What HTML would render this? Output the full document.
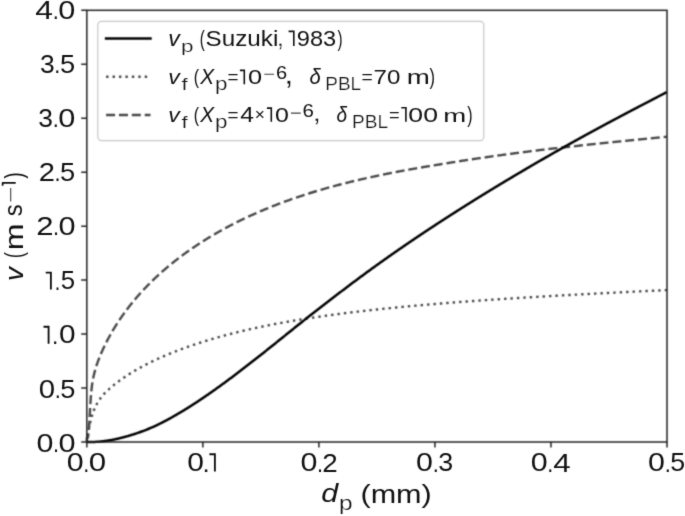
<!DOCTYPE html>
<html><head><meta charset="utf-8"><style>
html,body{margin:0;padding:0;background:#fff;width:685px;height:516px;overflow:hidden}
svg{display:block;font-family:"Liberation Sans",sans-serif}
</style></head><body>
<svg width="685" height="516" viewBox="0 0 685 516">
<defs><filter id="b" x="0" y="0" width="685" height="516" filterUnits="userSpaceOnUse" color-interpolation-filters="sRGB"><feConvolveMatrix order="3" kernelMatrix="0.09 0.3 0.09 0.3 1 0.3 0.09 0.3 0.09" edgeMode="duplicate"/></filter><filter id="bt" x="0" y="0" width="685" height="516" filterUnits="userSpaceOnUse" color-interpolation-filters="sRGB"><feConvolveMatrix order="3" kernelMatrix="0.0225 0.15 0.0225 0.15 1 0.15 0.0225 0.15 0.0225" edgeMode="duplicate"/></filter></defs>
<rect width="685" height="516" fill="#fff"/>
<g filter="url(#b)">
<g fill="none" stroke-linejoin="round">
<path d="M86.83,442.01 L86.83,441.99 L86.83,441.96 L86.84,441.92 L86.84,441.87 L86.85,441.80 L86.86,441.73 L86.87,441.64 L86.88,441.54 L86.89,441.43 L86.90,441.31 L86.92,441.18 L86.93,441.03 L86.95,440.88 L86.97,440.72 L86.99,440.55 L87.01,440.37 L87.04,440.18 L87.06,439.98 L87.09,439.77 L87.12,439.55 L87.15,439.32 L87.18,439.09 L87.21,438.85 L87.24,438.60 L87.28,438.34 L87.32,438.07 L87.35,437.80 L87.39,437.52 L87.43,437.23 L87.48,436.93 L87.52,436.63 L87.56,436.33 L87.61,436.01 L87.66,435.69 L87.71,435.37 L87.76,435.03 L87.81,434.70 L87.87,434.36 L87.92,434.01 L87.98,433.66 L88.04,433.30 L88.10,432.94 L88.16,432.57 L88.22,432.20 L88.28,431.83 L88.35,431.45 L88.42,431.07 L88.48,430.69 L88.55,430.30 L88.62,429.91 L88.70,429.52 L88.77,429.12 L88.85,428.73 L88.92,428.33 L89.00,427.92 L89.08,427.52 L89.16,427.12 L89.24,426.71 L89.33,426.30 L89.41,425.89 L89.50,425.49 L89.59,425.08 L89.68,424.66 L89.77,424.25 L89.86,423.84 L89.96,423.43 L90.05,423.02 L90.15,422.61 L90.25,422.20 L90.35,421.79 L90.45,421.38 L90.55,420.97 L90.65,420.56 L90.76,420.15 L90.87,419.75 L90.98,419.34 L91.09,418.93 L91.20,418.53 L91.31,418.13 L91.42,417.72 L91.54,417.32 L91.66,416.92 L91.77,416.53 L91.89,416.13 L92.02,415.73 L92.14,415.34 L92.26,414.95 L92.39,414.56 L92.52,414.17 L92.64,413.79 L92.77,413.40 L92.90,413.02 L93.04,412.64 L93.17,412.27 L93.31,411.89 L93.44,411.52 L93.58,411.15 L93.72,410.78 L93.86,410.42 L94.01,410.06 L94.15,409.70 L94.30,409.34 L94.44,408.99 L94.59,408.64 L94.74,408.29 L94.89,407.95 L95.05,407.61 L95.20,407.27 L95.36,406.93 L95.51,406.59 L95.67,406.26 L95.83,405.93 L95.99,405.61 L96.16,405.28 L96.32,404.96 L96.49,404.64 L96.66,404.33 L96.82,404.01 L96.99,403.70 L97.17,403.39 L97.34,403.08 L97.51,402.78 L97.69,402.48 L97.87,402.18 L98.04,401.88 L98.22,401.58 L98.41,401.29 L98.59,401.00 L98.77,400.71 L98.96,400.43 L99.15,400.14 L99.34,399.86 L99.53,399.58 L99.72,399.30 L99.91,399.03 L100.11,398.76 L100.30,398.49 L100.50,398.22 L100.70,397.95 L100.90,397.69 L101.10,397.42 L101.30,397.16 L101.51,396.90 L101.71,396.65 L101.92,396.39 L102.13,396.14 L102.34,395.89 L102.55,395.64 L102.76,395.39 L102.98,395.14 L103.19,394.90 L103.41,394.65 L103.63,394.41 L103.85,394.17 L104.07,393.93 L104.30,393.69 L104.52,393.45 L104.75,393.22 L104.97,392.98 L105.20,392.75 L105.43,392.51 L105.67,392.28 L105.90,392.05 L106.13,391.82 L106.37,391.59 L106.61,391.36 L106.85,391.13 L107.09,390.90 L107.33,390.67 L107.57,390.44 L107.82,390.21 L108.06,389.99 L108.31,389.76 L108.56,389.53 L108.81,389.31 L109.06,389.08 L109.32,388.85 L109.57,388.63 L109.83,388.40 L110.08,388.18 L110.34,387.95 L110.60,387.72 L110.87,387.50 L111.13,387.27 L111.39,387.05 L111.66,386.82 L111.93,386.59 L112.20,386.37 L112.47,386.14 L112.74,385.92 L113.01,385.69 L113.29,385.47 L113.56,385.24 L113.84,385.02 L114.12,384.79 L114.40,384.57 L114.68,384.34 L114.97,384.12 L115.25,383.89 L115.54,383.67 L115.83,383.44 L116.12,383.22 L116.41,382.99 L116.70,382.77 L116.99,382.55 L117.29,382.32 L117.58,382.10 L117.88,381.87 L118.18,381.65 L118.48,381.43 L118.78,381.20 L119.09,380.98 L119.39,380.76 L119.70,380.53 L120.01,380.31 L120.32,380.09 L120.63,379.86 L120.94,379.64 L121.25,379.42 L121.57,379.20 L121.88,378.97 L122.20,378.75 L122.52,378.53 L122.84,378.31 L123.17,378.08 L123.49,377.86 L123.81,377.64 L124.14,377.42 L124.47,377.20 L124.80,376.97 L125.13,376.75 L125.46,376.53 L125.79,376.31 L126.13,376.09 L126.47,375.87 L126.80,375.65 L127.14,375.43 L127.49,375.21 L127.83,374.99 L128.17,374.77 L128.52,374.55 L128.86,374.33 L129.21,374.11 L129.56,373.89 L129.91,373.67 L130.26,373.45 L130.62,373.23 L130.97,373.01 L131.33,372.79 L131.69,372.57 L132.05,372.35 L132.41,372.14 L132.77,371.92 L133.14,371.70 L133.50,371.48 L133.87,371.26 L134.24,371.05 L134.60,370.83 L134.98,370.61 L135.35,370.39 L135.72,370.18 L136.10,369.96 L136.47,369.74 L136.85,369.53 L137.23,369.31 L137.61,369.09 L138.00,368.88 L138.38,368.66 L138.77,368.45 L139.15,368.23 L139.54,368.02 L139.93,367.80 L140.32,367.59 L140.71,367.37 L141.11,367.16 L141.50,366.94 L141.90,366.73 L142.30,366.51 L142.70,366.30 L143.10,366.09 L143.50,365.87 L143.91,365.66 L144.31,365.45 L144.72,365.23 L145.13,365.02 L145.54,364.81 L145.95,364.60 L146.36,364.39 L146.78,364.17 L147.19,363.96 L147.61,363.75 L148.03,363.54 L148.45,363.33 L148.87,363.12 L149.29,362.91 L149.71,362.70 L150.14,362.49 L150.57,362.28 L151.00,362.07 L151.43,361.86 L151.86,361.65 L152.29,361.44 L152.72,361.23 L153.16,361.02 L153.60,360.81 L154.04,360.60 L154.48,360.40 L154.92,360.19 L155.36,359.98 L155.80,359.77 L156.25,359.57 L156.70,359.36 L157.15,359.15 L157.60,358.95 L158.05,358.74 L158.50,358.53 L158.95,358.33 L159.41,358.12 L159.87,357.92 L160.33,357.71 L160.79,357.51 L161.25,357.30 L161.71,357.10 L162.17,356.90 L162.64,356.69 L163.11,356.49 L163.58,356.29 L164.05,356.08 L164.52,355.88 L164.99,355.68 L165.47,355.48 L165.94,355.27 L166.42,355.07 L166.90,354.87 L167.38,354.67 L167.86,354.47 L168.34,354.27 L168.83,354.07 L169.31,353.87 L169.80,353.67 L170.29,353.47 L170.78,353.27 L171.27,353.07 L171.76,352.87 L172.26,352.67 L172.75,352.47 L173.25,352.28 L173.75,352.08 L174.25,351.88 L174.75,351.68 L175.26,351.49 L175.76,351.29 L176.27,351.09 L176.77,350.90 L177.28,350.70 L177.79,350.51 L178.30,350.31 L178.82,350.12 L179.33,349.92 L179.85,349.73 L180.37,349.53 L180.88,349.34 L181.40,349.15 L181.93,348.95 L182.45,348.76 L182.97,348.57 L183.50,348.37 L184.03,348.18 L184.56,347.99 L185.09,347.80 L185.62,347.61 L186.15,347.42 L186.69,347.23 L187.22,347.04 L187.76,346.85 L188.30,346.66 L188.84,346.47 L189.38,346.28 L189.93,346.09 L190.47,345.90 L191.02,345.71 L191.56,345.52 L192.11,345.34 L192.66,345.15 L193.22,344.96 L193.77,344.77 L194.32,344.59 L194.88,344.40 L195.44,344.22 L196.00,344.03 L196.56,343.85 L197.12,343.66 L197.68,343.48 L198.25,343.29 L198.81,343.11 L199.38,342.92 L199.95,342.74 L200.52,342.56 L201.09,342.38 L201.67,342.19 L202.24,342.01 L202.82,341.83 L203.40,341.65 L203.97,341.47 L204.56,341.29 L205.14,341.11 L205.72,340.93 L206.31,340.75 L206.89,340.57 L207.48,340.39 L208.07,340.21 L208.66,340.03 L209.25,339.85 L209.85,339.67 L210.44,339.50 L211.04,339.32 L211.64,339.14 L212.23,338.97 L212.84,338.79 L213.44,338.62 L214.04,338.44 L214.65,338.27 L215.25,338.09 L215.86,337.92 L216.47,337.74 L217.08,337.57 L217.69,337.40 L218.31,337.22 L218.92,337.05 L219.54,336.88 L220.16,336.71 L220.78,336.53 L221.40,336.36 L222.02,336.19 L222.64,336.02 L223.27,335.85 L223.89,335.68 L224.52,335.51 L225.15,335.34 L225.78,335.18 L226.41,335.01 L227.05,334.84 L227.68,334.67 L228.32,334.50 L228.96,334.34 L229.60,334.17 L230.24,334.01 L230.88,333.84 L231.53,333.67 L232.17,333.51 L232.82,333.35 L233.47,333.18 L234.11,333.02 L234.77,332.85 L235.42,332.69 L236.07,332.53 L236.73,332.37 L237.38,332.20 L238.04,332.04 L238.70,331.88 L239.36,331.72 L240.03,331.56 L240.69,331.40 L241.35,331.24 L242.02,331.08 L242.69,330.92 L243.36,330.76 L244.03,330.61 L244.70,330.45 L245.38,330.29 L246.05,330.13 L246.73,329.98 L247.41,329.82 L248.09,329.67 L248.77,329.51 L249.45,329.36 L250.13,329.20 L250.82,329.05 L251.51,328.89 L252.19,328.74 L252.88,328.59 L253.58,328.43 L254.27,328.28 L254.96,328.13 L255.66,327.98 L256.35,327.83 L257.05,327.68 L257.75,327.53 L258.45,327.38 L259.16,327.23 L259.86,327.08 L260.57,326.93 L261.27,326.78 L261.98,326.64 L262.69,326.49 L263.40,326.34 L264.12,326.20 L264.83,326.05 L265.55,325.90 L266.26,325.76 L266.98,325.61 L267.70,325.47 L268.42,325.33 L269.14,325.18 L269.87,325.04 L270.59,324.90 L271.32,324.76 L272.05,324.61 L272.78,324.47 L273.51,324.33 L274.24,324.19 L274.98,324.05 L275.71,323.91 L276.45,323.77 L277.19,323.63 L277.93,323.49 L278.67,323.36 L279.41,323.22 L280.16,323.08 L280.90,322.94 L281.65,322.81 L282.40,322.67 L283.15,322.53 L283.90,322.40 L284.65,322.26 L285.41,322.13 L286.16,322.00 L286.92,321.86 L287.68,321.73 L288.44,321.59 L289.20,321.46 L289.96,321.33 L290.73,321.20 L291.49,321.07 L292.26,320.93 L293.03,320.80 L293.80,320.67 L294.57,320.54 L295.35,320.41 L296.12,320.28 L296.90,320.16 L297.67,320.03 L298.45,319.90 L299.23,319.77 L300.01,319.64 L300.80,319.52 L301.58,319.39 L302.37,319.26 L303.15,319.14 L303.94,319.01 L304.73,318.89 L305.53,318.76 L306.32,318.64 L307.11,318.51 L307.91,318.39 L308.71,318.26 L309.50,318.14 L310.31,318.02 L311.11,317.90 L311.91,317.77 L312.71,317.65 L313.52,317.53 L314.33,317.41 L315.14,317.29 L315.95,317.17 L316.76,317.05 L317.57,316.93 L318.39,316.81 L319.20,316.69 L320.02,316.57 L320.84,316.45 L321.66,316.34 L322.48,316.22 L323.30,316.10 L324.13,315.98 L324.96,315.87 L325.78,315.75 L326.61,315.64 L327.44,315.52 L328.27,315.40 L329.11,315.29 L329.94,315.18 L330.78,315.06 L331.62,314.95 L332.46,314.83 L333.30,314.72 L334.14,314.61 L334.98,314.49 L335.83,314.38 L336.67,314.27 L337.52,314.16 L338.37,314.05 L339.22,313.94 L340.07,313.83 L340.92,313.72 L341.78,313.60 L342.64,313.50 L343.49,313.39 L344.35,313.28 L345.21,313.17 L346.07,313.06 L346.94,312.95 L347.80,312.84 L348.67,312.74 L349.54,312.63 L350.41,312.52 L351.28,312.41 L352.15,312.31 L353.02,312.20 L353.90,312.10 L354.77,311.99 L355.65,311.89 L356.53,311.78 L357.41,311.68 L358.29,311.57 L359.18,311.47 L360.06,311.36 L360.95,311.26 L361.84,311.16 L362.73,311.06 L363.62,310.95 L364.51,310.85 L365.40,310.75 L366.30,310.65 L367.19,310.55 L368.09,310.44 L368.99,310.34 L369.89,310.24 L370.79,310.14 L371.70,310.04 L372.60,309.94 L373.51,309.84 L374.42,309.75 L375.33,309.65 L376.24,309.55 L377.15,309.45 L378.06,309.35 L378.98,309.25 L379.89,309.16 L380.81,309.06 L381.73,308.96 L382.65,308.87 L383.57,308.77 L384.50,308.67 L385.42,308.58 L386.35,308.48 L387.28,308.39 L388.21,308.29 L389.14,308.20 L390.07,308.10 L391.00,308.01 L391.94,307.91 L392.88,307.82 L393.81,307.73 L394.75,307.63 L395.70,307.54 L396.64,307.45 L397.58,307.36 L398.53,307.26 L399.47,307.17 L400.42,307.08 L401.37,306.99 L402.32,306.90 L403.27,306.81 L404.23,306.72 L405.18,306.63 L406.14,306.54 L407.10,306.45 L408.06,306.36 L409.02,306.27 L409.98,306.18 L410.95,306.09 L411.91,306.00 L412.88,305.91 L413.85,305.82 L414.82,305.73 L415.79,305.65 L416.76,305.56 L417.73,305.47 L418.71,305.38 L419.69,305.30 L420.66,305.21 L421.64,305.12 L422.62,305.04 L423.61,304.95 L424.59,304.87 L425.58,304.78 L426.56,304.70 L427.55,304.61 L428.54,304.53 L429.53,304.44 L430.52,304.36 L431.52,304.27 L432.51,304.19 L433.51,304.10 L434.51,304.02 L435.51,303.94 L436.51,303.85 L437.51,303.77 L438.52,303.69 L439.52,303.61 L440.53,303.52 L441.54,303.44 L442.55,303.36 L443.56,303.28 L444.57,303.20 L445.59,303.12 L446.60,303.03 L447.62,302.95 L448.64,302.87 L449.66,302.79 L450.68,302.71 L451.70,302.63 L452.73,302.55 L453.75,302.47 L454.78,302.39 L455.81,302.31 L456.84,302.23 L457.87,302.16 L458.90,302.08 L459.94,302.00 L460.97,301.92 L462.01,301.84 L463.05,301.76 L464.09,301.69 L465.13,301.61 L466.17,301.53 L467.22,301.45 L468.26,301.38 L469.31,301.30 L470.36,301.22 L471.41,301.15 L472.46,301.07 L473.51,300.99 L474.57,300.92 L475.62,300.84 L476.68,300.77 L477.74,300.69 L478.80,300.62 L479.86,300.54 L480.92,300.47 L481.99,300.39 L483.05,300.32 L484.12,300.24 L485.19,300.17 L486.26,300.09 L487.33,300.02 L488.40,299.95 L489.48,299.87 L490.55,299.80 L491.63,299.73 L492.71,299.65 L493.79,299.58 L494.87,299.51 L495.95,299.43 L497.04,299.36 L498.12,299.29 L499.21,299.22 L500.30,299.15 L501.39,299.07 L502.48,299.00 L503.58,298.93 L504.67,298.86 L505.77,298.79 L506.86,298.72 L507.96,298.65 L509.06,298.57 L510.16,298.50 L511.27,298.43 L512.37,298.36 L513.48,298.29 L514.59,298.22 L515.69,298.15 L516.80,298.08 L517.92,298.01 L519.03,297.94 L520.14,297.87 L521.26,297.80 L522.38,297.73 L523.50,297.67 L524.62,297.60 L525.74,297.53 L526.86,297.46 L527.99,297.39 L529.11,297.32 L530.24,297.25 L531.37,297.18 L532.50,297.12 L533.63,297.05 L534.77,296.98 L535.90,296.91 L537.04,296.85 L538.17,296.78 L539.31,296.71 L540.45,296.64 L541.60,296.58 L542.74,296.51 L543.88,296.44 L545.03,296.37 L546.18,296.31 L547.33,296.24 L548.48,296.17 L549.63,296.11 L550.78,296.04 L551.94,295.98 L553.09,295.91 L554.25,295.84 L555.41,295.78 L556.57,295.71 L557.73,295.65 L558.90,295.58 L560.06,295.52 L561.23,295.45 L562.39,295.38 L563.56,295.32 L564.73,295.25 L565.91,295.19 L567.08,295.12 L568.26,295.06 L569.43,294.99 L570.61,294.93 L571.79,294.87 L572.97,294.80 L574.15,294.74 L575.33,294.67 L576.52,294.61 L577.71,294.54 L578.89,294.48 L580.08,294.42 L581.27,294.35 L582.47,294.29 L583.66,294.22 L584.85,294.16 L586.05,294.10 L587.25,294.03 L588.45,293.97 L589.65,293.91 L590.85,293.84 L592.06,293.78 L593.26,293.72 L594.47,293.65 L595.67,293.59 L596.88,293.53 L598.09,293.46 L599.31,293.40 L600.52,293.34 L601.74,293.28 L602.95,293.21 L604.17,293.15 L605.39,293.09 L606.61,293.03 L607.83,292.96 L609.06,292.90 L610.28,292.84 L611.51,292.78 L612.74,292.71 L613.97,292.65 L615.20,292.59 L616.43,292.53 L617.66,292.46 L618.90,292.40 L620.13,292.34 L621.37,292.28 L622.61,292.22 L623.85,292.16 L625.10,292.09 L626.34,292.03 L627.58,291.97 L628.83,291.91 L630.08,291.85 L631.33,291.79 L632.58,291.72 L633.83,291.66 L635.09,291.60 L636.34,291.54 L637.60,291.48 L638.86,291.42 L640.12,291.36 L641.38,291.29 L642.64,291.23 L643.90,291.17 L645.17,291.11 L646.44,291.05 L647.70,290.99 L648.97,290.93 L650.25,290.87 L651.52,290.80 L652.79,290.74 L654.07,290.68 L655.34,290.62 L656.62,290.56 L657.90,290.50 L659.18,290.44 L660.47,290.38 L661.75,290.32 L663.04,290.25 L664.32,290.19 L665.61,290.13 L666.90,290.07" stroke="#4a4a4a" stroke-width="2.4" stroke-dasharray="2.428 4.007" stroke-dashoffset="0.17415094339622628" stroke-linecap="butt"/>
<path d="M86.83,442.00 L86.83,441.40 L86.83,440.85 L86.84,440.35 L86.84,439.90 L86.85,439.50 L86.86,439.15 L86.87,438.84 L86.88,438.57 L86.89,438.33 L86.90,438.14 L86.92,437.97 L86.93,437.84 L86.95,437.73 L86.97,437.66 L86.99,437.60 L87.01,437.57 L87.04,437.55 L87.06,437.56 L87.09,437.57 L87.12,437.60 L87.15,437.64 L87.18,437.69 L87.21,437.74 L87.24,437.79 L87.28,437.84 L87.32,437.90 L87.35,437.94 L87.39,437.98 L87.43,438.01 L87.48,438.03 L87.52,438.03 L87.56,438.02 L87.61,437.99 L87.66,437.94 L87.71,437.86 L87.76,437.76 L87.81,437.63 L87.87,437.47 L87.92,437.27 L87.98,437.04 L88.04,436.77 L88.10,436.46 L88.16,436.11 L88.22,435.72 L88.28,435.27 L88.35,434.78 L88.42,434.23 L88.48,433.63 L88.55,432.98 L88.62,432.26 L88.70,431.48 L88.77,430.64 L88.85,429.73 L88.92,428.76 L89.00,427.71 L89.08,426.59 L89.16,425.39 L89.24,424.11 L89.33,422.76 L89.41,421.32 L89.50,419.80 L89.59,418.20 L89.68,416.56 L89.77,414.86 L89.86,413.13 L89.96,411.39 L90.05,409.63 L90.15,407.89 L90.25,406.16 L90.35,404.46 L90.45,402.80 L90.55,401.20 L90.65,399.66 L90.76,398.18 L90.87,396.76 L90.98,395.39 L91.09,394.08 L91.20,392.82 L91.31,391.61 L91.42,390.45 L91.54,389.33 L91.66,388.26 L91.77,387.23 L91.89,386.24 L92.02,385.30 L92.14,384.38 L92.26,383.51 L92.39,382.67 L92.52,381.86 L92.64,381.07 L92.77,380.32 L92.90,379.59 L93.04,378.89 L93.17,378.21 L93.31,377.55 L93.44,376.90 L93.58,376.28 L93.72,375.67 L93.86,375.07 L94.01,374.48 L94.15,373.90 L94.30,373.33 L94.44,372.76 L94.59,372.20 L94.74,371.64 L94.89,371.09 L95.05,370.54 L95.20,369.99 L95.36,369.45 L95.51,368.91 L95.67,368.37 L95.83,367.84 L95.99,367.31 L96.16,366.79 L96.32,366.26 L96.49,365.74 L96.66,365.23 L96.82,364.71 L96.99,364.20 L97.17,363.69 L97.34,363.19 L97.51,362.68 L97.69,362.18 L97.87,361.68 L98.04,361.18 L98.22,360.69 L98.41,360.20 L98.59,359.71 L98.77,359.22 L98.96,358.73 L99.15,358.25 L99.34,357.76 L99.53,357.28 L99.72,356.80 L99.91,356.32 L100.11,355.84 L100.30,355.37 L100.50,354.89 L100.70,354.42 L100.90,353.94 L101.10,353.47 L101.30,353.00 L101.51,352.53 L101.71,352.06 L101.92,351.59 L102.13,351.12 L102.34,350.65 L102.55,350.18 L102.76,349.71 L102.98,349.24 L103.19,348.78 L103.41,348.31 L103.63,347.84 L103.85,347.37 L104.07,346.90 L104.30,346.44 L104.52,345.97 L104.75,345.50 L104.97,345.03 L105.20,344.57 L105.43,344.10 L105.67,343.63 L105.90,343.16 L106.13,342.70 L106.37,342.23 L106.61,341.77 L106.85,341.30 L107.09,340.83 L107.33,340.37 L107.57,339.90 L107.82,339.44 L108.06,338.97 L108.31,338.51 L108.56,338.04 L108.81,337.58 L109.06,337.11 L109.32,336.65 L109.57,336.18 L109.83,335.72 L110.08,335.25 L110.34,334.79 L110.60,334.33 L110.87,333.86 L111.13,333.40 L111.39,332.94 L111.66,332.47 L111.93,332.01 L112.20,331.55 L112.47,331.09 L112.74,330.62 L113.01,330.16 L113.29,329.70 L113.56,329.24 L113.84,328.78 L114.12,328.32 L114.40,327.86 L114.68,327.40 L114.97,326.94 L115.25,326.48 L115.54,326.02 L115.83,325.56 L116.12,325.10 L116.41,324.64 L116.70,324.18 L116.99,323.72 L117.29,323.26 L117.58,322.81 L117.88,322.35 L118.18,321.89 L118.48,321.43 L118.78,320.98 L119.09,320.52 L119.39,320.06 L119.70,319.61 L120.01,319.15 L120.32,318.69 L120.63,318.24 L120.94,317.78 L121.25,317.33 L121.57,316.88 L121.88,316.42 L122.20,315.97 L122.52,315.51 L122.84,315.06 L123.17,314.61 L123.49,314.15 L123.81,313.70 L124.14,313.25 L124.47,312.80 L124.80,312.35 L125.13,311.90 L125.46,311.45 L125.79,310.99 L126.13,310.54 L126.47,310.09 L126.80,309.65 L127.14,309.20 L127.49,308.75 L127.83,308.30 L128.17,307.85 L128.52,307.40 L128.86,306.96 L129.21,306.51 L129.56,306.06 L129.91,305.61 L130.26,305.17 L130.62,304.72 L130.97,304.28 L131.33,303.83 L131.69,303.39 L132.05,302.94 L132.41,302.50 L132.77,302.06 L133.14,301.61 L133.50,301.17 L133.87,300.73 L134.24,300.29 L134.60,299.84 L134.98,299.40 L135.35,298.96 L135.72,298.52 L136.10,298.08 L136.47,297.64 L136.85,297.20 L137.23,296.76 L137.61,296.33 L138.00,295.89 L138.38,295.45 L138.77,295.01 L139.15,294.58 L139.54,294.14 L139.93,293.70 L140.32,293.27 L140.71,292.83 L141.11,292.40 L141.50,291.96 L141.90,291.53 L142.30,291.10 L142.70,290.66 L143.10,290.23 L143.50,289.80 L143.91,289.37 L144.31,288.94 L144.72,288.50 L145.13,288.07 L145.54,287.64 L145.95,287.21 L146.36,286.79 L146.78,286.36 L147.19,285.93 L147.61,285.50 L148.03,285.07 L148.45,284.65 L148.87,284.22 L149.29,283.80 L149.71,283.37 L150.14,282.95 L150.57,282.52 L151.00,282.10 L151.43,281.68 L151.86,281.25 L152.29,280.83 L152.72,280.41 L153.16,279.99 L153.60,279.57 L154.04,279.15 L154.48,278.73 L154.92,278.31 L155.36,277.89 L155.80,277.47 L156.25,277.05 L156.70,276.64 L157.15,276.22 L157.60,275.80 L158.05,275.39 L158.50,274.97 L158.95,274.56 L159.41,274.14 L159.87,273.73 L160.33,273.32 L160.79,272.90 L161.25,272.49 L161.71,272.08 L162.17,271.67 L162.64,271.26 L163.11,270.85 L163.58,270.44 L164.05,270.03 L164.52,269.62 L164.99,269.22 L165.47,268.81 L165.94,268.40 L166.42,268.00 L166.90,267.59 L167.38,267.19 L167.86,266.78 L168.34,266.38 L168.83,265.98 L169.31,265.57 L169.80,265.17 L170.29,264.77 L170.78,264.37 L171.27,263.97 L171.76,263.57 L172.26,263.17 L172.75,262.77 L173.25,262.37 L173.75,261.97 L174.25,261.58 L174.75,261.18 L175.26,260.78 L175.76,260.39 L176.27,259.99 L176.77,259.60 L177.28,259.21 L177.79,258.81 L178.30,258.42 L178.82,258.03 L179.33,257.64 L179.85,257.25 L180.37,256.85 L180.88,256.47 L181.40,256.08 L181.93,255.69 L182.45,255.30 L182.97,254.91 L183.50,254.53 L184.03,254.14 L184.56,253.75 L185.09,253.37 L185.62,252.98 L186.15,252.60 L186.69,252.22 L187.22,251.83 L187.76,251.45 L188.30,251.07 L188.84,250.69 L189.38,250.31 L189.93,249.93 L190.47,249.55 L191.02,249.17 L191.56,248.79 L192.11,248.42 L192.66,248.04 L193.22,247.66 L193.77,247.29 L194.32,246.91 L194.88,246.54 L195.44,246.16 L196.00,245.79 L196.56,245.42 L197.12,245.05 L197.68,244.68 L198.25,244.30 L198.81,243.93 L199.38,243.57 L199.95,243.20 L200.52,242.83 L201.09,242.46 L201.67,242.09 L202.24,241.73 L202.82,241.36 L203.40,241.00 L203.97,240.63 L204.56,240.27 L205.14,239.90 L205.72,239.54 L206.31,239.18 L206.89,238.82 L207.48,238.46 L208.07,238.10 L208.66,237.74 L209.25,237.38 L209.85,237.02 L210.44,236.66 L211.04,236.31 L211.64,235.95 L212.23,235.59 L212.84,235.24 L213.44,234.89 L214.04,234.53 L214.65,234.18 L215.25,233.83 L215.86,233.47 L216.47,233.12 L217.08,232.77 L217.69,232.42 L218.31,232.07 L218.92,231.73 L219.54,231.38 L220.16,231.03 L220.78,230.68 L221.40,230.34 L222.02,229.99 L222.64,229.65 L223.27,229.30 L223.89,228.96 L224.52,228.62 L225.15,228.28 L225.78,227.93 L226.41,227.59 L227.05,227.25 L227.68,226.91 L228.32,226.58 L228.96,226.24 L229.60,225.90 L230.24,225.56 L230.88,225.23 L231.53,224.89 L232.17,224.56 L232.82,224.22 L233.47,223.89 L234.11,223.56 L234.77,223.23 L235.42,222.90 L236.07,222.57 L236.73,222.24 L237.38,221.91 L238.04,221.58 L238.70,221.25 L239.36,220.92 L240.03,220.60 L240.69,220.27 L241.35,219.95 L242.02,219.63 L242.69,219.31 L243.36,218.99 L244.03,218.67 L244.70,218.35 L245.38,218.04 L246.05,217.72 L246.73,217.40 L247.41,217.09 L248.09,216.77 L248.77,216.46 L249.45,216.14 L250.13,215.83 L250.82,215.52 L251.51,215.21 L252.19,214.90 L252.88,214.59 L253.58,214.28 L254.27,213.97 L254.96,213.66 L255.66,213.36 L256.35,213.05 L257.05,212.74 L257.75,212.44 L258.45,212.14 L259.16,211.83 L259.86,211.53 L260.57,211.23 L261.27,210.93 L261.98,210.63 L262.69,210.33 L263.40,210.03 L264.12,209.73 L264.83,209.43 L265.55,209.13 L266.26,208.84 L266.98,208.54 L267.70,208.25 L268.42,207.96 L269.14,207.66 L269.87,207.37 L270.59,207.08 L271.32,206.79 L272.05,206.50 L272.78,206.21 L273.51,205.92 L274.24,205.63 L274.98,205.35 L275.71,205.06 L276.45,204.77 L277.19,204.49 L277.93,204.20 L278.67,203.92 L279.41,203.64 L280.16,203.36 L280.90,203.08 L281.65,202.80 L282.40,202.52 L283.15,202.24 L283.90,201.96 L284.65,201.68 L285.41,201.41 L286.16,201.13 L286.92,200.86 L287.68,200.58 L288.44,200.31 L289.20,200.04 L289.96,199.76 L290.73,199.49 L291.49,199.22 L292.26,198.95 L293.03,198.69 L293.80,198.42 L294.57,198.15 L295.35,197.88 L296.12,197.62 L296.90,197.35 L297.67,197.09 L298.45,196.83 L299.23,196.56 L300.01,196.30 L300.80,196.04 L301.58,195.79 L302.37,195.53 L303.15,195.27 L303.94,195.01 L304.73,194.76 L305.53,194.50 L306.32,194.25 L307.11,194.00 L307.91,193.74 L308.71,193.49 L309.50,193.24 L310.31,192.99 L311.11,192.74 L311.91,192.50 L312.71,192.25 L313.52,192.00 L314.33,191.76 L315.14,191.51 L315.95,191.27 L316.76,191.02 L317.57,190.78 L318.39,190.54 L319.20,190.30 L320.02,190.06 L320.84,189.82 L321.66,189.58 L322.48,189.34 L323.30,189.11 L324.13,188.87 L324.96,188.63 L325.78,188.40 L326.61,188.17 L327.44,187.93 L328.27,187.70 L329.11,187.47 L329.94,187.24 L330.78,187.01 L331.62,186.78 L332.46,186.55 L333.30,186.32 L334.14,186.09 L334.98,185.87 L335.83,185.64 L336.67,185.42 L337.52,185.19 L338.37,184.97 L339.22,184.75 L340.07,184.52 L340.92,184.30 L341.78,184.08 L342.64,183.86 L343.49,183.64 L344.35,183.43 L345.21,183.21 L346.07,182.99 L346.94,182.77 L347.80,182.56 L348.67,182.34 L349.54,182.13 L350.41,181.92 L351.28,181.70 L352.15,181.49 L353.02,181.28 L353.90,181.07 L354.77,180.86 L355.65,180.65 L356.53,180.44 L357.41,180.23 L358.29,180.03 L359.18,179.82 L360.06,179.61 L360.95,179.41 L361.84,179.20 L362.73,179.00 L363.62,178.80 L364.51,178.59 L365.40,178.39 L366.30,178.19 L367.19,177.99 L368.09,177.79 L368.99,177.59 L369.89,177.39 L370.79,177.19 L371.70,177.00 L372.60,176.80 L373.51,176.60 L374.42,176.41 L375.33,176.21 L376.24,176.02 L377.15,175.83 L378.06,175.63 L378.98,175.44 L379.89,175.25 L380.81,175.06 L381.73,174.87 L382.65,174.68 L383.57,174.49 L384.50,174.30 L385.42,174.11 L386.35,173.92 L387.28,173.74 L388.21,173.55 L389.14,173.36 L390.07,173.18 L391.00,172.99 L391.94,172.81 L392.88,172.63 L393.81,172.44 L394.75,172.26 L395.70,172.08 L396.64,171.90 L397.58,171.72 L398.53,171.54 L399.47,171.36 L400.42,171.18 L401.37,171.00 L402.32,170.82 L403.27,170.65 L404.23,170.47 L405.18,170.29 L406.14,170.12 L407.10,169.94 L408.06,169.77 L409.02,169.59 L409.98,169.42 L410.95,169.25 L411.91,169.07 L412.88,168.90 L413.85,168.73 L414.82,168.56 L415.79,168.39 L416.76,168.22 L417.73,168.05 L418.71,167.88 L419.69,167.71 L420.66,167.54 L421.64,167.38 L422.62,167.21 L423.61,167.04 L424.59,166.88 L425.58,166.71 L426.56,166.55 L427.55,166.38 L428.54,166.22 L429.53,166.06 L430.52,165.89 L431.52,165.73 L432.51,165.57 L433.51,165.41 L434.51,165.25 L435.51,165.09 L436.51,164.93 L437.51,164.77 L438.52,164.61 L439.52,164.45 L440.53,164.28 L441.54,164.11 L442.55,163.94 L443.56,163.78 L444.57,163.61 L445.59,163.44 L446.60,163.27 L447.62,163.10 L448.64,162.94 L449.66,162.77 L450.68,162.61 L451.70,162.44 L452.73,162.28 L453.75,162.11 L454.78,161.95 L455.81,161.78 L456.84,161.62 L457.87,161.46 L458.90,161.29 L459.94,161.13 L460.97,160.97 L462.01,160.81 L463.05,160.65 L464.09,160.49 L465.13,160.33 L466.17,160.17 L467.22,160.01 L468.26,159.85 L469.31,159.69 L470.36,159.53 L471.41,159.37 L472.46,159.21 L473.51,159.06 L474.57,158.90 L475.62,158.74 L476.68,158.58 L477.74,158.43 L478.80,158.27 L479.86,158.12 L480.92,157.96 L481.99,157.81 L483.05,157.65 L484.12,157.50 L485.19,157.35 L486.26,157.19 L487.33,157.04 L488.40,156.89 L489.48,156.73 L490.55,156.58 L491.63,156.43 L492.71,156.28 L493.79,156.13 L494.87,155.98 L495.95,155.82 L497.04,155.67 L498.12,155.52 L499.21,155.37 L500.30,155.23 L501.39,155.08 L502.48,154.93 L503.58,154.78 L504.67,154.63 L505.77,154.48 L506.86,154.33 L507.96,154.19 L509.06,154.04 L510.16,153.89 L511.27,153.75 L512.37,153.60 L513.48,153.45 L514.59,153.31 L515.69,153.16 L516.80,153.02 L517.92,152.87 L519.03,152.73 L520.14,152.58 L521.26,152.44 L522.38,152.29 L523.50,152.15 L524.62,152.00 L525.74,151.86 L526.86,151.72 L527.99,151.57 L529.11,151.43 L530.24,151.29 L531.37,151.15 L532.50,151.00 L533.63,150.86 L534.77,150.72 L535.90,150.58 L537.04,150.44 L538.17,150.30 L539.31,150.16 L540.45,150.01 L541.60,149.87 L542.74,149.73 L543.88,149.59 L545.03,149.45 L546.18,149.32 L547.33,149.19 L548.48,149.06 L549.63,148.93 L550.78,148.79 L551.94,148.66 L553.09,148.53 L554.25,148.40 L555.41,148.27 L556.57,148.14 L557.73,148.01 L558.90,147.88 L560.06,147.75 L561.23,147.62 L562.39,147.49 L563.56,147.36 L564.73,147.23 L565.91,147.10 L567.08,146.97 L568.26,146.84 L569.43,146.71 L570.61,146.59 L571.79,146.46 L572.97,146.33 L574.15,146.20 L575.33,146.07 L576.52,145.94 L577.71,145.82 L578.89,145.69 L580.08,145.56 L581.27,145.43 L582.47,145.31 L583.66,145.18 L584.85,145.05 L586.05,144.92 L587.25,144.80 L588.45,144.67 L589.65,144.54 L590.85,144.42 L592.06,144.29 L593.26,144.16 L594.47,144.04 L595.67,143.91 L596.88,143.78 L598.09,143.66 L599.31,143.53 L600.52,143.41 L601.74,143.28 L602.95,143.15 L604.17,143.03 L605.39,142.90 L606.61,142.78 L607.83,142.65 L609.06,142.53 L610.28,142.40 L611.51,142.27 L612.74,142.15 L613.97,142.02 L615.20,141.90 L616.43,141.77 L617.66,141.65 L618.90,141.52 L620.13,141.40 L621.37,141.27 L622.61,141.15 L623.85,141.02 L625.10,140.90 L626.34,140.77 L627.58,140.65 L628.83,140.52 L630.08,140.40 L631.33,140.27 L632.58,140.15 L633.83,140.02 L635.09,139.90 L636.34,139.77 L637.60,139.65 L638.86,139.52 L640.12,139.40 L641.38,139.27 L642.64,139.15 L643.90,139.02 L645.17,138.90 L646.44,138.77 L647.70,138.65 L648.97,138.52 L650.25,138.40 L651.52,138.27 L652.79,138.15 L654.07,138.02 L655.34,137.90 L656.62,137.77 L657.90,137.65 L659.18,137.52 L660.47,137.40 L661.75,137.27 L663.04,137.14 L664.32,137.02 L665.61,136.89 L666.90,136.77" stroke="#4a4a4a" stroke-width="2.4" stroke-dasharray="8.982606325200857 3.8897893461807276" stroke-dashoffset="12.129076220962773"/>
<path d="M86.83,442.00 L87.48,442.01 L88.12,442.02 L88.77,442.03 L89.41,442.03 L90.06,442.03 L90.70,442.03 L91.35,442.02 L91.99,442.01 L92.64,441.99 L93.28,441.97 L93.93,441.95 L94.57,441.92 L95.22,441.89 L95.86,441.86 L96.51,441.82 L97.15,441.78 L97.80,441.74 L98.44,441.69 L99.09,441.64 L99.73,441.58 L100.38,441.52 L101.03,441.46 L101.67,441.40 L102.32,441.33 L102.96,441.26 L103.61,441.18 L104.25,441.10 L104.90,441.02 L105.54,440.93 L106.19,440.84 L106.83,440.75 L107.48,440.65 L108.12,440.55 L108.77,440.45 L109.41,440.34 L110.06,440.23 L110.70,440.12 L111.35,440.00 L111.99,439.88 L112.64,439.76 L113.28,439.63 L113.93,439.50 L114.58,439.37 L115.22,439.23 L115.87,439.10 L116.51,438.95 L117.16,438.81 L117.80,438.66 L118.45,438.51 L119.09,438.35 L119.74,438.20 L120.38,438.04 L121.03,437.88 L121.67,437.72 L122.32,437.56 L122.96,437.40 L123.61,437.23 L124.25,437.06 L124.90,436.88 L125.54,436.70 L126.19,436.52 L126.83,436.34 L127.48,436.15 L128.13,435.97 L128.77,435.77 L129.42,435.58 L130.06,435.38 L130.71,435.19 L131.35,435.00 L132.00,434.80 L132.64,434.60 L133.29,434.40 L133.93,434.20 L134.58,433.99 L135.22,433.78 L135.87,433.56 L136.51,433.35 L137.16,433.13 L137.80,432.91 L138.45,432.69 L139.09,432.46 L139.74,432.23 L140.38,432.00 L141.03,431.76 L141.68,431.53 L142.32,431.29 L142.97,431.05 L143.61,430.80 L144.26,430.55 L144.90,430.30 L145.55,430.05 L146.19,429.80 L146.84,429.54 L147.48,429.28 L148.13,429.02 L148.77,428.75 L149.42,428.49 L150.06,428.22 L150.71,427.94 L151.35,427.67 L152.00,427.39 L152.64,427.11 L153.29,426.83 L153.93,426.55 L154.58,426.26 L155.23,425.97 L155.87,425.66 L156.52,425.35 L157.16,425.04 L157.81,424.72 L158.45,424.41 L159.10,424.09 L159.74,423.76 L160.39,423.44 L161.03,423.11 L161.68,422.79 L162.32,422.46 L162.97,422.12 L163.61,421.79 L164.26,421.45 L164.90,421.11 L165.55,420.77 L166.19,420.43 L166.84,420.09 L167.48,419.74 L168.13,419.39 L168.78,419.04 L169.42,418.69 L170.07,418.33 L170.71,417.97 L171.36,417.62 L172.00,417.25 L172.65,416.89 L173.29,416.53 L173.94,416.16 L174.58,415.79 L175.23,415.42 L175.87,415.05 L176.52,414.68 L177.16,414.30 L177.81,413.93 L178.45,413.55 L179.10,413.17 L179.74,412.78 L180.39,412.40 L181.03,412.01 L181.68,411.63 L182.33,411.24 L182.97,410.85 L183.62,410.45 L184.26,410.06 L184.91,409.66 L185.55,409.27 L186.20,408.87 L186.84,408.47 L187.49,408.07 L188.13,407.66 L188.78,407.26 L189.42,406.85 L190.07,406.44 L190.71,406.03 L191.36,405.62 L192.00,405.21 L192.65,404.79 L193.29,404.38 L193.94,403.96 L194.58,403.54 L195.23,403.12 L195.88,402.70 L196.52,402.28 L197.17,401.86 L197.81,401.43 L198.46,401.01 L199.10,400.58 L199.75,400.15 L200.39,399.72 L201.04,399.28 L201.68,398.85 L202.33,398.41 L202.97,397.97 L203.62,397.54 L204.26,397.10 L204.91,396.66 L205.55,396.21 L206.20,395.77 L206.84,395.33 L207.49,394.88 L208.13,394.43 L208.78,393.98 L209.43,393.54 L210.07,393.09 L210.72,392.63 L211.36,392.18 L212.01,391.73 L212.65,391.27 L213.30,390.82 L213.94,390.36 L214.59,389.90 L215.23,389.44 L215.88,388.98 L216.52,388.52 L217.17,388.06 L217.81,387.60 L218.46,387.13 L219.10,386.67 L219.75,386.20 L220.39,385.73 L221.04,385.27 L221.68,384.80 L222.33,384.33 L222.98,383.86 L223.62,383.38 L224.27,382.91 L224.91,382.44 L225.56,381.96 L226.20,381.49 L226.85,381.01 L227.49,380.53 L228.14,380.06 L228.78,379.58 L229.43,379.10 L230.07,378.62 L230.72,378.13 L231.36,377.65 L232.01,377.17 L232.65,376.68 L233.30,376.20 L233.94,375.71 L234.59,375.23 L235.24,374.74 L235.88,374.25 L236.53,373.76 L237.17,373.27 L237.82,372.78 L238.46,372.29 L239.11,371.80 L239.75,371.31 L240.40,370.82 L241.04,370.32 L241.69,369.83 L242.33,369.33 L242.98,368.84 L243.62,368.34 L244.27,367.84 L244.91,367.35 L245.56,366.85 L246.20,366.35 L246.85,365.85 L247.49,365.35 L248.14,364.85 L248.79,364.35 L249.43,363.84 L250.08,363.34 L250.72,362.84 L251.37,362.34 L252.01,361.83 L252.66,361.33 L253.30,360.82 L253.95,360.32 L254.59,359.81 L255.24,359.30 L255.88,358.80 L256.53,358.29 L257.17,357.78 L257.82,357.27 L258.46,356.76 L259.11,356.26 L259.75,355.75 L260.40,355.24 L261.04,354.72 L261.69,354.21 L262.34,353.70 L262.98,353.19 L263.63,352.68 L264.27,352.17 L264.92,351.65 L265.56,351.14 L266.21,350.63 L266.85,350.11 L267.50,349.60 L268.14,349.08 L268.79,348.57 L269.43,348.06 L270.08,347.54 L270.72,347.02 L271.37,346.51 L272.01,345.99 L272.66,345.48 L273.30,344.96 L273.95,344.44 L274.59,343.93 L275.24,343.41 L275.89,342.89 L276.53,342.37 L277.18,341.86 L277.82,341.34 L278.47,340.82 L279.11,340.30 L279.76,339.79 L280.40,339.27 L281.05,338.75 L281.69,338.23 L282.34,337.71 L282.98,337.19 L283.63,336.67 L284.27,336.15 L284.92,335.64 L285.56,335.12 L286.21,334.60 L286.85,334.08 L287.50,333.56 L288.14,333.04 L288.79,332.52 L289.44,332.00 L290.08,331.48 L290.73,330.96 L291.37,330.44 L292.02,329.93 L292.66,329.41 L293.31,328.89 L293.95,328.37 L294.60,327.85 L295.24,327.33 L295.89,326.81 L296.53,326.29 L297.18,325.78 L297.82,325.26 L298.47,324.74 L299.11,324.22 L299.76,323.70 L300.40,323.19 L301.05,322.68 L301.69,322.16 L302.34,321.65 L302.99,321.14 L303.63,320.63 L304.28,320.12 L304.92,319.61 L305.57,319.10 L306.21,318.59 L306.86,318.08 L307.50,317.57 L308.15,317.06 L308.79,316.55 L309.44,316.04 L310.08,315.53 L310.73,315.02 L311.37,314.51 L312.02,314.01 L312.66,313.50 L313.31,312.99 L313.95,312.48 L314.60,311.98 L315.24,311.47 L315.89,310.97 L316.54,310.46 L317.18,309.96 L317.83,309.45 L318.47,308.95 L319.12,308.44 L319.76,307.94 L320.41,307.44 L321.05,306.94 L321.70,306.43 L322.34,305.93 L322.99,305.43 L323.63,304.93 L324.28,304.43 L324.92,303.93 L325.57,303.43 L326.21,302.93 L326.86,302.44 L327.50,301.94 L328.15,301.44 L328.79,300.95 L329.44,300.45 L330.09,299.96 L330.73,299.46 L331.38,298.97 L332.02,298.47 L332.67,297.98 L333.31,297.49 L333.96,297.00 L334.60,296.51 L335.25,296.02 L335.89,295.53 L336.54,295.04 L337.18,294.55 L337.83,294.06 L338.47,293.57 L339.12,293.09 L339.76,292.60 L340.41,292.11 L341.05,291.62 L341.70,291.12 L342.34,290.63 L342.99,290.14 L343.64,289.65 L344.28,289.16 L344.93,288.67 L345.57,288.18 L346.22,287.69 L346.86,287.20 L347.51,286.71 L348.15,286.22 L348.80,285.74 L349.44,285.25 L350.09,284.77 L350.73,284.28 L351.38,283.80 L352.02,283.31 L352.67,282.83 L353.31,282.35 L353.96,281.86 L354.60,281.38 L355.25,280.90 L355.89,280.42 L356.54,279.94 L357.19,279.46 L357.83,278.98 L358.48,278.50 L359.12,278.02 L359.77,277.55 L360.41,277.07 L361.06,276.59 L361.70,276.12 L362.35,275.64 L362.99,275.16 L363.64,274.69 L364.28,274.22 L364.93,273.74 L365.57,273.27 L366.22,272.80 L366.86,272.33 L367.51,271.85 L368.15,271.38 L368.80,270.91 L369.44,270.44 L370.09,269.97 L370.74,269.51 L371.38,269.04 L372.03,268.57 L372.67,268.10 L373.32,267.64 L373.96,267.17 L374.61,266.70 L375.25,266.24 L375.90,265.77 L376.54,265.31 L377.19,264.85 L377.83,264.38 L378.48,263.92 L379.12,263.46 L379.77,263.00 L380.41,262.53 L381.06,262.07 L381.70,261.61 L382.35,261.15 L382.99,260.69 L383.64,260.24 L384.29,259.78 L384.93,259.32 L385.58,258.86 L386.22,258.41 L386.87,257.95 L387.51,257.50 L388.16,257.04 L388.80,256.59 L389.45,256.14 L390.09,255.68 L390.74,255.23 L391.38,254.78 L392.03,254.33 L392.67,253.88 L393.32,253.43 L393.96,252.98 L394.61,252.53 L395.25,252.08 L395.90,251.63 L396.54,251.18 L397.19,250.73 L397.84,250.29 L398.48,249.84 L399.13,249.39 L399.77,248.95 L400.42,248.50 L401.06,248.06 L401.71,247.61 L402.35,247.17 L403.00,246.73 L403.64,246.28 L404.29,245.84 L404.93,245.40 L405.58,244.96 L406.22,244.52 L406.87,244.07 L407.51,243.63 L408.16,243.19 L408.80,242.75 L409.45,242.31 L410.09,241.88 L410.74,241.44 L411.39,241.00 L412.03,240.56 L412.68,240.13 L413.32,239.69 L413.97,239.25 L414.61,238.82 L415.26,238.38 L415.90,237.95 L416.55,237.51 L417.19,237.08 L417.84,236.64 L418.48,236.21 L419.13,235.78 L419.77,235.35 L420.42,234.91 L421.06,234.48 L421.71,234.05 L422.35,233.62 L423.00,233.19 L423.64,232.76 L424.29,232.33 L424.94,231.90 L425.58,231.47 L426.23,231.04 L426.87,230.62 L427.52,230.19 L428.16,229.76 L428.81,229.33 L429.45,228.91 L430.10,228.48 L430.74,228.06 L431.39,227.63 L432.03,227.21 L432.68,226.78 L433.32,226.36 L433.97,225.93 L434.61,225.51 L435.26,225.09 L435.90,224.67 L436.55,224.24 L437.19,223.82 L437.84,223.40 L438.49,222.98 L439.13,222.56 L439.78,222.14 L440.42,221.72 L441.07,221.30 L441.71,220.88 L442.36,220.46 L443.00,220.04 L443.65,219.62 L444.29,219.21 L444.94,218.79 L445.58,218.37 L446.23,217.96 L446.87,217.54 L447.52,217.12 L448.16,216.71 L448.81,216.29 L449.45,215.88 L450.10,215.46 L450.74,215.05 L451.39,214.64 L452.04,214.22 L452.68,213.81 L453.33,213.40 L453.97,212.98 L454.62,212.57 L455.26,212.16 L455.91,211.75 L456.55,211.34 L457.20,210.93 L457.84,210.52 L458.49,210.11 L459.13,209.70 L459.78,209.29 L460.42,208.88 L461.07,208.47 L461.71,208.06 L462.36,207.65 L463.00,207.25 L463.65,206.84 L464.29,206.43 L464.94,206.02 L465.59,205.62 L466.23,205.21 L466.88,204.81 L467.52,204.40 L468.17,204.00 L468.81,203.59 L469.46,203.19 L470.10,202.78 L470.75,202.38 L471.39,201.97 L472.04,201.57 L472.68,201.17 L473.33,200.77 L473.97,200.36 L474.62,199.96 L475.26,199.56 L475.91,199.16 L476.55,198.76 L477.20,198.36 L477.84,197.96 L478.49,197.56 L479.14,197.16 L479.78,196.76 L480.43,196.36 L481.07,195.96 L481.72,195.56 L482.36,195.16 L483.01,194.76 L483.65,194.36 L484.30,193.97 L484.94,193.57 L485.59,193.17 L486.23,192.78 L486.88,192.38 L487.52,191.99 L488.17,191.59 L488.81,191.20 L489.46,190.80 L490.10,190.41 L490.75,190.02 L491.39,189.62 L492.04,189.23 L492.69,188.84 L493.33,188.44 L493.98,188.05 L494.62,187.66 L495.27,187.27 L495.91,186.88 L496.56,186.49 L497.20,186.10 L497.85,185.70 L498.49,185.31 L499.14,184.92 L499.78,184.53 L500.43,184.15 L501.07,183.76 L501.72,183.37 L502.36,182.98 L503.01,182.59 L503.65,182.20 L504.30,181.81 L504.94,181.43 L505.59,181.04 L506.24,180.65 L506.88,180.27 L507.53,179.88 L508.17,179.49 L508.82,179.11 L509.46,178.72 L510.11,178.34 L510.75,177.95 L511.40,177.57 L512.04,177.18 L512.69,176.80 L513.33,176.42 L513.98,176.03 L514.62,175.65 L515.27,175.27 L515.91,174.88 L516.56,174.50 L517.20,174.12 L517.85,173.74 L518.49,173.35 L519.14,172.97 L519.79,172.59 L520.43,172.21 L521.08,171.83 L521.72,171.45 L522.37,171.07 L523.01,170.69 L523.66,170.31 L524.30,169.93 L524.95,169.55 L525.59,169.17 L526.24,168.80 L526.88,168.42 L527.53,168.04 L528.17,167.66 L528.82,167.29 L529.46,166.91 L530.11,166.53 L530.75,166.16 L531.40,165.78 L532.05,165.40 L532.69,165.03 L533.34,164.65 L533.98,164.28 L534.63,163.90 L535.27,163.53 L535.92,163.15 L536.56,162.78 L537.21,162.41 L537.85,162.03 L538.50,161.66 L539.14,161.29 L539.79,160.91 L540.43,160.54 L541.08,160.17 L541.72,159.80 L542.37,159.43 L543.01,159.06 L543.66,158.68 L544.30,158.31 L544.95,157.94 L545.60,157.57 L546.24,157.20 L546.89,156.83 L547.53,156.46 L548.18,156.09 L548.82,155.72 L549.47,155.35 L550.11,154.98 L550.76,154.62 L551.40,154.25 L552.05,153.88 L552.69,153.51 L553.34,153.14 L553.98,152.78 L554.63,152.41 L555.27,152.04 L555.92,151.68 L556.56,151.31 L557.21,150.94 L557.85,150.58 L558.50,150.21 L559.15,149.85 L559.79,149.48 L560.44,149.12 L561.08,148.75 L561.73,148.39 L562.37,148.03 L563.02,147.66 L563.66,147.30 L564.31,146.94 L564.95,146.57 L565.60,146.21 L566.24,145.85 L566.89,145.49 L567.53,145.13 L568.18,144.76 L568.82,144.40 L569.47,144.04 L570.11,143.68 L570.76,143.32 L571.40,142.96 L572.05,142.60 L572.70,142.24 L573.34,141.88 L573.99,141.52 L574.63,141.17 L575.28,140.81 L575.92,140.45 L576.57,140.09 L577.21,139.73 L577.86,139.38 L578.50,139.02 L579.15,138.66 L579.79,138.31 L580.44,137.95 L581.08,137.59 L581.73,137.24 L582.37,136.88 L583.02,136.53 L583.66,136.17 L584.31,135.82 L584.95,135.46 L585.60,135.11 L586.25,134.76 L586.89,134.40 L587.54,134.05 L588.18,133.70 L588.83,133.34 L589.47,132.99 L590.12,132.64 L590.76,132.29 L591.41,131.94 L592.05,131.58 L592.70,131.23 L593.34,130.88 L593.99,130.53 L594.63,130.18 L595.28,129.83 L595.92,129.48 L596.57,129.13 L597.21,128.78 L597.86,128.43 L598.50,128.08 L599.15,127.74 L599.80,127.39 L600.44,127.04 L601.09,126.69 L601.73,126.34 L602.38,126.00 L603.02,125.65 L603.67,125.30 L604.31,124.96 L604.96,124.61 L605.60,124.27 L606.25,123.92 L606.89,123.57 L607.54,123.23 L608.18,122.88 L608.83,122.54 L609.47,122.20 L610.12,121.85 L610.76,121.51 L611.41,121.16 L612.05,120.82 L612.70,120.48 L613.35,120.14 L613.99,119.79 L614.64,119.45 L615.28,119.11 L615.93,118.76 L616.57,118.42 L617.22,118.07 L617.86,117.73 L618.51,117.38 L619.15,117.04 L619.80,116.70 L620.44,116.35 L621.09,116.01 L621.73,115.67 L622.38,115.32 L623.02,114.98 L623.67,114.64 L624.31,114.30 L624.96,113.96 L625.60,113.61 L626.25,113.27 L626.90,112.93 L627.54,112.59 L628.19,112.25 L628.83,111.91 L629.48,111.57 L630.12,111.23 L630.77,110.89 L631.41,110.55 L632.06,110.22 L632.70,109.88 L633.35,109.54 L633.99,109.20 L634.64,108.86 L635.28,108.53 L635.93,108.19 L636.57,107.85 L637.22,107.52 L637.86,107.18 L638.51,106.84 L639.15,106.51 L639.80,106.17 L640.45,105.84 L641.09,105.50 L641.74,105.17 L642.38,104.83 L643.03,104.50 L643.67,104.16 L644.32,103.83 L644.96,103.50 L645.61,103.16 L646.25,102.83 L646.90,102.50 L647.54,102.16 L648.19,101.83 L648.83,101.50 L649.48,101.17 L650.12,100.83 L650.77,100.49 L651.41,100.15 L652.06,99.81 L652.70,99.47 L653.35,99.13 L654.00,98.79 L654.64,98.45 L655.29,98.12 L655.93,97.78 L656.58,97.44 L657.22,97.10 L657.87,96.76 L658.51,96.42 L659.16,96.09 L659.80,95.75 L660.45,95.41 L661.09,95.08 L661.74,94.74 L662.38,94.40 L663.03,94.07 L663.67,93.73 L664.32,93.40 L664.96,93.06 L665.61,92.73 L666.25,92.39 L666.90,92.06" stroke="#000" stroke-width="2.5"/>
</g>
<path d="M86.83,442.00 V447.60 M202.86,442.00 V447.60 M318.90,442.00 V447.60 M434.93,442.00 V447.60 M550.97,442.00 V447.60 M667.00,442.00 V447.60 M86.83,442.00 H81.23 M86.83,388.04 H81.23 M86.83,334.07 H81.23 M86.83,280.11 H81.23 M86.83,226.15 H81.23 M86.83,172.19 H81.23 M86.83,118.23 H81.23 M86.83,64.26 H81.23 M86.83,10.30 H81.23" stroke="#222" stroke-width="1.5" fill="none"/>
<rect x="86.83" y="10.30" width="580.17" height="431.70" fill="none" stroke="#222" stroke-width="1.5"/>
<rect x="97.8" y="21.45" width="386.0" height="119.1" rx="3.6" fill="#fff" fill-opacity="0.8" stroke="#c8c8c8" stroke-width="1.2"/>
<path d="M106.1,38.6 H150.5" stroke="#000" stroke-width="2.5" stroke-linecap="square"/>
<path d="M106.1,76.7 H150.5" stroke="#4a4a4a" stroke-width="2.4" stroke-dasharray="2.428 4.007" stroke-linecap="butt"/>
<path d="M106.1,115.0 H150.5" stroke="#4a4a4a" stroke-width="2.4" stroke-dasharray="8.982606325200857 3.8897893461807276"/>
</g>
<g font-family="Liberation Sans" fill="#111" filter="url(#bt)">
<text transform="translate(35.16,19.10) scale(1.2322,1)" font-size="25.80">4</text>
<text transform="translate(52.74,19.10) scale(0.9269,1)" font-size="23.44">.</text>
<text transform="translate(58.27,18.85) scale(1.2160,1)" font-size="25.19">0</text>
<text transform="translate(39.94,72.94) scale(1.0484,1)" font-size="25.19">3</text>
<text transform="translate(54.34,73.19) scale(0.9269,1)" font-size="23.44">.</text>
<text transform="translate(60.01,72.94) scale(1.0718,1)" font-size="25.43">5</text>
<text transform="translate(38.24,127.04) scale(1.0484,1)" font-size="25.19">3</text>
<text transform="translate(52.64,127.29) scale(0.9269,1)" font-size="23.44">.</text>
<text transform="translate(58.17,127.04) scale(1.2160,1)" font-size="25.19">0</text>
<text transform="translate(38.84,181.38) scale(1.1399,1)" font-size="25.55">2</text>
<text transform="translate(54.44,181.38) scale(0.9269,1)" font-size="23.44">.</text>
<text transform="translate(60.11,181.13) scale(1.0718,1)" font-size="25.43">5</text>
<text transform="translate(36.35,235.48) scale(1.2170,1)" font-size="25.55">2</text>
<text transform="translate(52.94,235.48) scale(0.9269,1)" font-size="23.44">.</text>
<text transform="translate(58.47,235.22) scale(1.2160,1)" font-size="25.19">0</text>
<text transform="translate(54.83,289.57) scale(0.8386,1)" font-size="23.44">.</text>
<text transform="translate(60.77,289.31) scale(1.0136,1)" font-size="25.43">5</text>
<text transform="translate(51.95,343.66) scale(0.9710,1)" font-size="23.44">.</text>
<text transform="translate(58.91,343.41) scale(1.1827,1)" font-size="25.19">0</text>
<text transform="translate(38.63,397.50) scale(1.1660,1)" font-size="25.19">0</text>
<text transform="translate(54.64,397.76) scale(0.9269,1)" font-size="23.44">.</text>
<text transform="translate(60.31,397.50) scale(1.0718,1)" font-size="25.43">5</text>
<text transform="translate(36.38,451.60) scale(1.2077,1)" font-size="25.19">0</text>
<text transform="translate(52.94,451.85) scale(0.9269,1)" font-size="23.44">.</text>
<text transform="translate(58.47,451.60) scale(1.2160,1)" font-size="25.19">0</text>
<text transform="translate(66.68,471.24) scale(1.1811,1)" font-size="25.75">0</text>
<text transform="translate(83.24,471.50) scale(0.9269,1)" font-size="23.44">.</text>
<text transform="translate(88.75,471.24) scale(1.2137,1)" font-size="25.75">0</text>
<text transform="translate(187.20,471.24) scale(1.1648,1)" font-size="25.75">0</text>
<text transform="translate(202.57,471.50) scale(1.1034,1)" font-size="23.44">.</text>
<text transform="translate(300.38,471.24) scale(1.1811,1)" font-size="25.75">0</text>
<text transform="translate(316.94,471.50) scale(0.9269,1)" font-size="23.44">.</text>
<text transform="translate(322.31,471.50) scale(1.0645,1)" font-size="26.12">2</text>
<text transform="translate(416.08,471.24) scale(1.1811,1)" font-size="25.75">0</text>
<text transform="translate(432.64,471.50) scale(0.9269,1)" font-size="23.44">.</text>
<text transform="translate(438.33,471.24) scale(1.0418,1)" font-size="25.75">3</text>
<text transform="translate(530.78,471.24) scale(1.1811,1)" font-size="25.75">0</text>
<text transform="translate(547.34,471.50) scale(0.9269,1)" font-size="23.44">.</text>
<text transform="translate(553.37,471.50) scale(1.1901,1)" font-size="26.38">4</text>
<text transform="translate(648.08,471.24) scale(1.1811,1)" font-size="25.75">0</text>
<text transform="translate(664.64,471.50) scale(0.9269,1)" font-size="23.44">.</text>
<text transform="translate(670.33,471.24) scale(1.0320,1)" font-size="26.00">5</text>
<text transform="translate(321.19,502.35) scale(1.1961,1)" font-size="25.38" font-style="italic">d</text>
<text transform="translate(339.05,509.56) scale(1.2195,1)" font-size="20.04" stroke="#fff" stroke-width="0.205">p</text>
<text transform="translate(360.46,502.54) scale(1.1797,1)" font-size="25.93">(mm)</text>
<text transform="rotate(-90) translate(-281.07,23.30) scale(1.0583,1)" font-size="26.23" font-style="italic">v</text>
<text transform="rotate(-90) translate(-258.35,22.70) scale(0.6972,1)" font-size="26.14">(</text>
<text transform="rotate(-90) translate(-250.24,22.70) scale(1.2873,1)" font-size="24.97">m</text>
<text transform="rotate(-90) translate(-216.31,22.44) scale(0.9281,1)" font-size="25.61">s</text>
<text transform="rotate(-90) translate(-178.42,22.79) scale(0.7089,1)" font-size="25.71">)</text>
<text transform="translate(168.19,46.30) scale(1.0358,1)" font-size="22.26" font-style="italic">v</text>
<text transform="translate(180.98,51.79) scale(1.4020,1)" font-size="16.01" stroke="#fff" stroke-width="0.178">p</text>
<text transform="translate(199.84,45.80) scale(0.6984,1)" font-size="21.75">(</text>
<text transform="translate(205.57,45.89) scale(1.1378,1)" font-size="21.31">Suzuki</text>
<text transform="translate(276.30,45.85) scale(1.1639,1)" font-size="25.77" stroke="#fff" stroke-width="0.515">,</text>
<text transform="translate(296.80,45.68) scale(1.0897,1)" font-size="21.65">983</text>
<text transform="translate(337.40,45.73) scale(0.7018,1)" font-size="21.64">)</text>
<text transform="translate(168.19,84.30) scale(1.1111,1)" font-size="20.75" font-style="italic">v</text>
<text transform="translate(181.50,89.90) scale(1.3340,1)" font-size="16.87" stroke="#fff" stroke-width="0.187">f</text>
<text transform="translate(193.69,84.10) scale(0.7673,1)" font-size="20.79">(</text>
<text transform="translate(200.25,84.30) scale(0.9673,1)" font-size="21.45" font-style="italic">X</text>
<text transform="translate(214.88,90.06) scale(1.2736,1)" font-size="17.62" stroke="#fff" stroke-width="0.196">p</text>
<text transform="translate(227.56,83.00) scale(0.9819,1)" font-size="19.18">=</text>
<text transform="translate(247.98,84.09) scale(1.2203,1)" font-size="20.80">0</text>
<text transform="translate(275.90,79.02) scale(1.1439,1)" font-size="17.55">6</text>
<text transform="translate(283.50,84.36) scale(1.3424,1)" font-size="28.73" stroke="#fff" stroke-width="0.447">,</text>
<text transform="translate(309.43,84.38) scale(0.9014,1)" font-size="22.40" font-style="italic">δ</text>
<text transform="translate(325.32,90.30) scale(1.0459,1)" font-size="18.12" stroke="#fff" stroke-width="0.239">PBL</text>
<text transform="translate(361.54,83.00) scale(1.0034,1)" font-size="19.18">=</text>
<text transform="translate(373.59,84.19) scale(1.1525,1)" font-size="20.94">70</text>
<text transform="translate(406.85,84.40) scale(1.3772,1)" font-size="20.12">m</text>
<text transform="translate(429.59,83.97) scale(0.7620,1)" font-size="21.43">)</text>
<text transform="translate(168.19,122.30) scale(1.1111,1)" font-size="20.75" font-style="italic">v</text>
<text transform="translate(181.50,127.90) scale(1.3340,1)" font-size="16.87" stroke="#fff" stroke-width="0.187">f</text>
<text transform="translate(193.69,122.10) scale(0.7673,1)" font-size="20.79">(</text>
<text transform="translate(200.25,122.30) scale(0.9673,1)" font-size="21.45" font-style="italic">X</text>
<text transform="translate(214.88,128.06) scale(1.2736,1)" font-size="17.62" stroke="#fff" stroke-width="0.196">p</text>
<text transform="translate(227.56,121.00) scale(0.9819,1)" font-size="19.18">=</text>
<text transform="translate(240.33,121.60) scale(1.1486,1)" font-size="21.45">4</text>
<text transform="translate(254.78,120.21) scale(1.0000,1)" font-size="17.37">×</text>
<text transform="translate(275.00,121.59) scale(1.2167,1)" font-size="20.52">0</text>
<text transform="translate(302.57,117.32) scale(1.1685,1)" font-size="17.55">6</text>
<text transform="translate(311.90,121.39) scale(1.3088,1)" font-size="26.20" stroke="#fff" stroke-width="0.458">,</text>
<text transform="translate(336.46,122.38) scale(0.8666,1)" font-size="21.99" font-style="italic">δ</text>
<text transform="translate(352.11,128.20) scale(1.0692,1)" font-size="17.83" stroke="#fff" stroke-width="0.234">PBL</text>
<text transform="translate(388.89,121.00) scale(0.9495,1)" font-size="19.18">=</text>
<text transform="translate(408.34,121.59) scale(1.2707,1)" font-size="20.94">00</text>
<text transform="translate(443.16,121.80) scale(1.4507,1)" font-size="19.01">m</text>
<text transform="translate(467.19,121.98) scale(0.6989,1)" font-size="22.82">)</text>
<path d="M45.70,272.69 H50.88 V289.57" stroke="#111" stroke-width="1.85" fill="none" stroke-linejoin="miter"/><path d="M43.50,326.79 H48.58 V343.66" stroke="#111" stroke-width="1.85" fill="none" stroke-linejoin="miter"/><path d="M209.40,454.23 H214.88 V471.50" stroke="#111" stroke-width="1.85" fill="none" stroke-linejoin="miter"/><path d="M288.60,31.40 H293.80 V45.90" stroke="#111" stroke-width="1.6" fill="none" stroke-linejoin="miter"/><path d="M239.90,70.40 H244.30 V84.30" stroke="#111" stroke-width="1.6" fill="none" stroke-linejoin="miter"/><path d="M266.90,108.10 H271.30 V121.80" stroke="#111" stroke-width="1.6" fill="none" stroke-linejoin="miter"/><path d="M401.30,107.80 H405.90 V121.80" stroke="#111" stroke-width="1.6" fill="none" stroke-linejoin="miter"/>
<path d="M15.7,182.9 H2.6 V185.7" stroke="#111" stroke-width="1.7" fill="none" stroke-linejoin="round"/>
<path d="M10.70,188.10 L10.70,201.60 M264.30,74.20 L274.00,74.20 M291.00,113.10 L300.70,113.10" stroke="#111" stroke-width="1.1" stroke-opacity="0.8" fill="none"/>
</g>
</svg>
</body></html>
